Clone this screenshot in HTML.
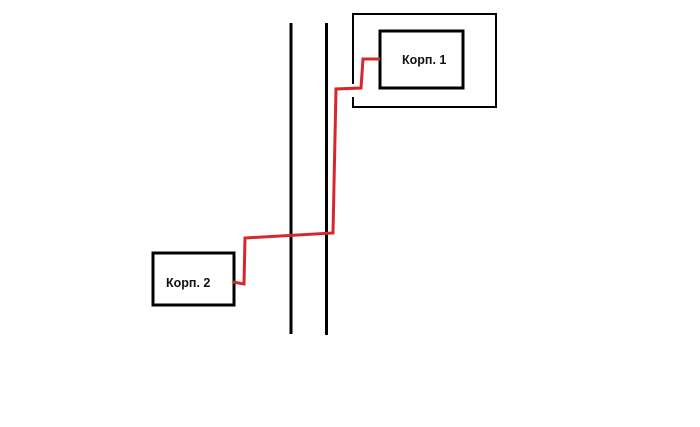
<!DOCTYPE html>
<html><head><meta charset="utf-8"><style>
html,body{margin:0;padding:0;background:#fff;}
svg{display:block;}
text{font-family:"Liberation Sans",sans-serif;font-size:12.5px;font-weight:bold;fill:#111;}
</style></head><body>
<svg width="700" height="427" viewBox="0 0 700 427" xmlns="http://www.w3.org/2000/svg">
<rect width="700" height="427" fill="#fff"/>
<!-- outer box with gap on left -->
<polyline points="353,84 353,14 496,14 496,107 353,107 353,97" fill="none" stroke="#000" stroke-width="2"/>
<!-- inner box -->
<rect x="380" y="31" width="83" height="57" fill="none" stroke="#000" stroke-width="3"/>
<text x="402" y="64">Корп. 1</text>
<!-- Korp 2 -->
<rect x="153" y="253" width="81" height="52" fill="none" stroke="#000" stroke-width="3"/>
<text x="166" y="287">Корп. 2</text>
<!-- vertical lines -->
<line x1="291" y1="23" x2="291" y2="334" stroke="#000" stroke-width="3"/>
<line x1="326.5" y1="23" x2="326.5" y2="335" stroke="#000" stroke-width="3"/>
<!-- red cable -->
<polyline points="233,282 244,284 245,238 333,233 336,89 361,88 363,59 380,59" fill="none" stroke="#d8262b" stroke-width="3" stroke-linejoin="miter"/>
</svg>
</body></html>
